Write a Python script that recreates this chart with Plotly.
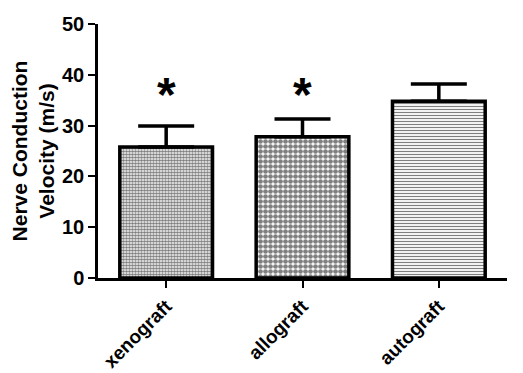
import plotly.graph_objects as go

categories = ["xenograft", "allograft", "autograft"]
means = [25.8, 27.8, 34.8]
errors = [4.1, 3.5, 3.4]
significance = ["*", "*", ""]
significance_level = 37.3
y_ticks = [0, 10, 20, 30, 40, 50]

FONT = "Arial, Liberation Sans, sans-serif"

patterns = [
    dict(shape=".", size=3, solidity=0.65, fgcolor="black", bgcolor="white", fillmode="overlay"),
    dict(shape=".", size=5, solidity=0.7, fgcolor="black", bgcolor="white", fillmode="overlay"),
    dict(shape="-", size=3, solidity=0.4, fgcolor="black", bgcolor="white", fillmode="overlay"),
]

fig = go.Figure()
for i, cat in enumerate(categories):
    fig.add_trace(go.Bar(
        x=[cat], y=[means[i]],
        width=0.68,
        marker=dict(color="white", pattern=patterns[i], line=dict(color="black", width=3.5)),
        error_y=dict(type="data", array=[errors[i]], arrayminus=[0], symmetric=False,
                     color="black", thickness=3.5, width=28),
        showlegend=False,
    ))

for i, cat in enumerate(categories):
    if significance[i]:
        fig.add_annotation(x=cat, y=significance_level, text=significance[i],
                           showarrow=False, yanchor="middle", yshift=-6,
                           font=dict(size=48, color="black", family=FONT, weight="bold"))

fig.update_layout(
    width=515, height=365,
    margin=dict(l=90, r=16, t=16, b=95, autoexpand=False),
    plot_bgcolor="white", paper_bgcolor="white",
    font=dict(family=FONT, color="black"),
)
fig.update_xaxes(
    range=[-0.5, 2.5], showline=True, linecolor="black", linewidth=2.5,
    ticks="outside", ticklen=7, tickwidth=2, tickcolor="black",
    tickangle=-45, tickfont=dict(size=19, family=FONT, weight="bold"),
    showgrid=False, zeroline=False, automargin=False,
)
fig.update_yaxes(
    range=[0, 50], tickvals=y_ticks, showline=True, linecolor="black", linewidth=2.5,
    ticks="outside", ticklen=7, tickwidth=2, tickcolor="black",
    tickfont=dict(size=20, family=FONT, weight="bold"),
    showgrid=False, zeroline=False, automargin=False,
    title=dict(text="Nerve Conduction<br>Velocity (m/s)", font=dict(size=21, weight="bold"), standoff=6),
)

fig.write_html("out.html")
